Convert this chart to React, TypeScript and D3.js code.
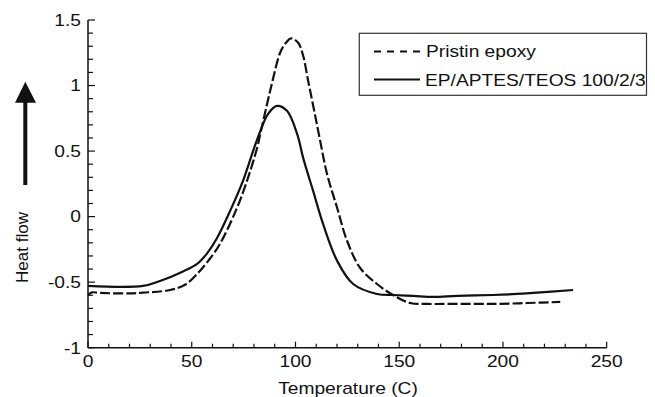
import React from "react";
import * as d3 from "d3";

// ---- data ----
const pristinT = [0, 1.9, 5.8, 20.3, 26.5, 39.5, 46.8, 52.6, 58.3, 63.6, 71.8, 77.1, 81.5, 82.9, 87.8, 92.6, 95, 97.9, 101.3, 103.7, 106.1, 109, 111.9, 115.2, 120.1, 124.9, 131.2, 139.3, 147, 155.3, 163.5, 173.1, 189, 197.2, 211.7, 227.6];
const pristinH = [-0.598, -0.578, -0.582, -0.586, -0.58, -0.56, -0.52, -0.437, -0.33, -0.208, 0.066, 0.295, 0.524, 0.62, 0.96, 1.25, 1.318, 1.36, 1.326, 1.227, 1.036, 0.81, 0.578, 0.326, 0.066, -0.186, -0.392, -0.514, -0.598, -0.659, -0.666, -0.666, -0.666, -0.666, -0.659, -0.651];

const hybridT = [0, 26.5, 34.7, 45.8, 52.6, 57.4, 62.2, 68.5, 74.7, 79.6, 82.9, 86.8, 91.1, 95.9, 100.8, 103.7, 108.5, 113.3, 120.1, 127.8, 139.3, 147, 156.7, 166.3, 177.9, 195.3, 206.8, 214.6, 233.8];
const hybridH = [-0.529, -0.529, -0.491, -0.418, -0.361, -0.28, -0.163, 0.044, 0.273, 0.502, 0.647, 0.784, 0.845, 0.807, 0.631, 0.448, 0.196, -0.056, -0.338, -0.514, -0.59, -0.598, -0.605, -0.613, -0.605, -0.598, -0.59, -0.582, -0.56];

const xTicks = [0, 50, 100, 150, 200, 250];
const yTicks = [-1, -0.5, 0, 0.5, 1, 1.5];
const seriesNames = ["Pristin epoxy", "EP/APTES/TEOS 100/2/3"];
const xTitle = "Temperature (C)";
const yTitle = "Heat flow";

const FONT = "'Liberation Sans', Arial, Helvetica, sans-serif";
const SX = 1.2;

export default function App() {
  const W = 655, H = 397;
  const x = d3.scaleLinear().domain([0, 250]).range([88, 606.7]);
  const y = d3.scaleLinear().domain([-1, 1.5]).range([347.7, 20]);

  const mk = (ts: number[], hs: number[]) =>
    d3
      .line<number>()
      .x((t) => x(t))
      .y((_, i) => y(hs[i]))
      .curve(d3.curveCatmullRom.alpha(0.5))(ts) || "";

  const xMinor = d3.range(0, 251, 10);
  const yMinor = d3.range(-10, 16, 1).map((v) => v / 10);
  const x0 = x(0), y0 = y(-1);

  return (
    <svg
      width={W}
      height={H}
      style={{ position: "absolute", left: 0, top: 0, background: "#fff" }}
      fontFamily={FONT}
    >
      {/* curves */}
      <path d={mk(pristinT, pristinH)} fill="none" stroke="#111" strokeWidth={2.2} strokeDasharray="10,3" />
      <path d={mk(hybridT, hybridH)} fill="none" stroke="#111" strokeWidth={2.2} />

      {/* axes */}
      <line x1={x0} x2={x0} y1={y(1.5)} y2={y0} stroke="#111" strokeWidth={1.5} />
      <line x1={x0} x2={x(250)} y1={y0} y2={y0} stroke="#111" strokeWidth={1.5} />
      {yMinor.map((v) => {
        const major = Math.abs(v * 2 - Math.round(v * 2)) < 1e-6;
        return (
          <line key={"yt" + v} x1={x0} x2={x0 + (major ? 7 : 5)} y1={y(v)} y2={y(v)} stroke="#111" strokeWidth={1.2} />
        );
      })}
      {xMinor.map((v) => {
        const major = v % 50 === 0;
        return (
          <line key={"xt" + v} x1={x(v)} x2={x(v)} y1={y0} y2={y0 - (major ? 6 : 4)} stroke="#111" strokeWidth={1.2} />
        );
      })}
      {yTicks.map((v) => (
        <text
          key={"yl" + v}
          transform={`translate(${81},${y(v) + 5.8}) scale(${SX},1)`}
          textAnchor="end"
          fontSize={16}
          fill="#111"
        >
          {String(v)}
        </text>
      ))}
      {xTicks.map((v) => (
        <text
          key={"xl" + v}
          transform={`translate(${x(v)},${366.7}) scale(${SX},1)`}
          textAnchor="middle"
          fontSize={16}
          fill="#111"
        >
          {v}
        </text>
      ))}
      <text transform={`translate(348,393.5) scale(${SX},1)`} textAnchor="middle" fontSize={16} fill="#111">
        {xTitle}
      </text>
      <text transform={`translate(28.3,247.5) rotate(-90)`} textAnchor="middle" fontSize={17} fill="#111">
        {yTitle}
      </text>

      {/* arrow */}
      <rect x={23.3} y={100} width={4} height={85} fill="#111" />
      <polygon points="25.3,81.7 15,102.7 36,102.7" fill="#111" />

      {/* legend */}
      <rect x={359.3} y={33.3} width={287.2} height={62} fill="#fff" stroke="#333" strokeWidth={1.2} />
      <line x1={374} x2={420} y1={51.5} y2={51.5} stroke="#111" strokeWidth={2.2} strokeDasharray="7,6" />
      <line x1={374} x2={420} y1={79.5} y2={79.5} stroke="#111" strokeWidth={2.2} />
      <text transform={`translate(426,56.5) scale(${SX},1)`} fontSize={16} fill="#111">
        {seriesNames[0]}
      </text>
      <text transform={`translate(425,86) scale(${SX},1)`} fontSize={16} fill="#111">
        {seriesNames[1]}
      </text>
    </svg>
  );
}
